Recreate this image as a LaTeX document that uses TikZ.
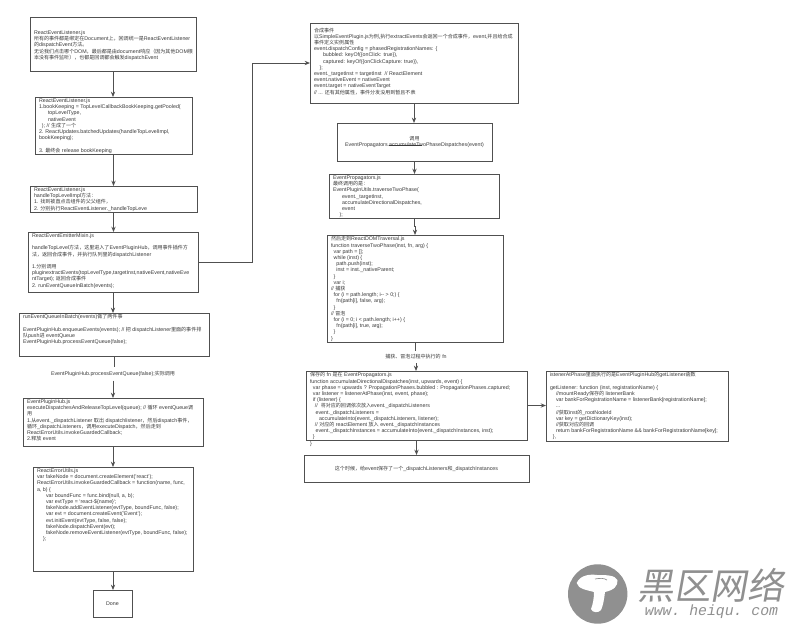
\documentclass[tikz,border=0pt]{standalone}
\usepackage{fontspec}
\setmainfont{Liberation Sans}
\newfontfamily\cjk{Noto Sans CJK SC}
\newfontfamily\cjkbody[Scale=0.95]{Noto Sans CJK SC}
\newfontfamily\wmono{Liberation Mono}
\usetikzlibrary{arrows.meta}
\newcommand\zh[1]{{\cjkbody #1}}
\newcommand\ind[1]{\hspace*{#1pt}}
\newcommand\blank{\mbox{}\\}
\definecolor{edge}{HTML}{505050}
\definecolor{ink}{HTML}{3A3A3A}
\definecolor{wm}{HTML}{909090}
\tikzset{
  x=0.75pt,y=-0.75pt,
  every node/.style={font=\fontsize{3.98}{4.65}\selectfont,text=ink},
  boxs/.style={draw=edge,line width=0.7pt,rectangle,outer sep=0pt,inner xsep=3pt,inner ysep=1.2pt,anchor=north west},
  flow/.style={draw=edge,line width=0.7pt,-{Stealth[length=4pt,width=3.2pt]}},
  plain/.style={draw=edge,line width=0.7pt},
  lbl/.style={inner sep=3pt,outer sep=0pt}
}
% name, x1, y1, x2, y2, text (top-left aligned)
\newcommand\bx[6]{%
  \pgfmathsetlengthmacro\bw{(#4-#2)*0.75}%
  \pgfmathsetlengthmacro\bh{(#5-#3)*0.75}%
  \pgfmathsetlengthmacro\tw{\bw-6}%
  \pgfmathsetlengthmacro\th{\bh-2.4}%
  \node[boxs,minimum width=\bw,minimum height=\bh] (#1) at (#2,#3)
    {\parbox[t][\th][t]{\tw}{\fontsize{3.98}{4.65}\selectfont\hbadness=10000 \hfuzz=40pt\rightskip=0pt plus 1fil #6}};}
% name, x1, y1, x2, y2, text (centred)
\newcommand\cbx[6]{%
  \pgfmathsetlengthmacro\bw{(#4-#2)*0.75}%
  \pgfmathsetlengthmacro\bh{(#5-#3)*0.75}%
  \node[boxs,align=center,minimum width=\bw,minimum height=\bh] (#1) at (#2,#3) {#6};}
\begin{document}
\begin{tikzpicture}
\useasboundingbox (0,0) rectangle (800,629);
\fill[white] (0,0) rectangle (800,629);

\bx{a1}{30}{17}{196}{71}{\vspace*{9pt}ReactEventListener.js\\
\zh{所有的事件都是绑定在}Document\zh{上，回调统一是}ReactEventListener\\
\zh{的}dispatchEvent\zh{方法。}\\
\zh{无论我们点击哪个}DOM\zh{，最后都是由}document\zh{响应（因为其他}DOM\zh{根}\\
\zh{本没有事件监听），也都是回调都会触发}dispatchEvent}

\bx{a2}{35}{97}{192}{154}{ReactEventListener.js\\
1.bookKeeping = TopLevelCallbackBookKeeping.getPooled(\\
\ind{6.75}topLevelType,\\
\ind{6.75}nativeEvent\\
\ind{2.2}); // \zh{生成了一个}\\
2. ReactUpdates.batchedUpdates(handleTopLevelImpl,\\
bookKeeping);\\
\blank
3. \zh{最终会} release bookKeeping}

\bx{a3}{30}{186}{197}{212}{ReactEventListener.js\\
handleTopLevelImpl\zh{方法：}\\
1. \zh{找到被直点击组件的父父组件，}\\
2. \zh{分别执行}ReactEventListener.\_handleTopLeve}

\bx{a4}{28}{232}{198}{292}{ReactEventEmitterMixin.js\\
\blank
handleTopLevel\zh{方法，这里进入了}EventPluginHub\zh{，调用事件插件方}\\
\zh{法，返回合成事件，并执行队列里的}dispatchListener\\
\blank
1.\zh{分别调用}\\
pluginextractEvents(topLevelType,targetInst,nativeEvent,nativeEve\\
ntTarget); \zh{返回合成事件}\\
2. runEventQueueInBatch(events);}

\bx{a5}{19}{313}{209}{356}{runEventQueueInBatch(events)\zh{做了两件事}\\
\blank
EventPluginHub.enqueueEvents(events); // \zh{把} dispatchListener\zh{里面的事件排}\\
\zh{队}push\zh{进} eventQueue\\
EventPluginHub.processEventQueue(false);}

\node[lbl] (l1) at (113,374) {EventPluginHub.processEventQueue(false);\zh{实际调用}};

\bx{a6}{23}{398}{203}{446}{EventPluginHub.js\\
executeDispatchesAndReleaseTopLevel(queue); // \zh{循环} eventQueue\zh{调}\\
\zh{用}\\
1.\zh{从}event.\_dispatchListener \zh{取出} dispatchlistener\zh{，然后}dispatch\zh{事件，}\\
\zh{循环}\_dispatchListeners\zh{，调用}executeDispatch\zh{，然后走到}\\
ReactErrorUtils.invokeGuardedCallback;\\
2.\zh{释放} event}

\bx{a7}{33}{467}{193}{571}{ReactErrorUtils.js\\
var fakeNode = document.createElement('react');\\
ReactErrorUtils.invokeGuardedCallback = function(name, func,\\
a, b) \{\\
\ind{6.75}var boundFunc = func.bind(null, a, b);\\
\ind{6.75}var evtType = `react-\$\{name\}`;\\
\ind{6.75}fakeNode.addEventListener(evtType, boundFunc, false);\\
\ind{6.75}var evt = document.createEvent('Event');\\
\ind{6.75}evt.initEvent(evtType, false, false);\\
\ind{6.75}fakeNode.dispatchEvent(evt);\\
\ind{6.75}fakeNode.removeEventListener(evtType, boundFunc, false);\\
\ind{4.5}\};}

\cbx{a8}{93}{590}{132}{617}{Done}

\bx{b1}{310}{23}{518}{103}{\vspace*{2.5pt}\zh{合成事件}\\
\zh{以}SimpleEventPlugin.js\zh{为例,执行}extractEvents\zh{会返回一个合成事件，}event,\zh{并且给合成}\\
\zh{事件定义实例属性}\\
event.dispatchConfig = phasedRegistrationNames: \{\\
\ind{6.75}bubbled: keyOf(\{onClick: true\}),\\
\ind{6.75}captured: keyOf(\{onClickCapture: true\}),\\
\ind{4.2}\};\\
event.\_targetInst = targetInst\ \ // ReactElement\\
event.nativeEvent = nativeEvent\\
event.target = nativeEventTarget\\
// ... \zh{还有其他属性，事件分发没用到暂且不表}}

\cbx{b2}{337}{123}{492}{161}{\zh{调用}\\EventPropagators.\rlap{\rule[0.2pt]{24.5pt}{0.9pt}}accumulateTwoPhaseDispatches(event)}

\bx{b3}{329}{174}{499}{218}{EventPropagators.js\\
\zh{最终调用的是：}\\
EventPluginUtils.traverseTwoPhase(\\
\ind{6.75}event.\_targetInst,\\
\ind{6.75}accumulateDirectionalDispatches,\\
\ind{6.75}event\\
\ind{5});}

\bx{b4}{327}{235}{503}{342}{\zh{然后走到}ReactDOMTraversal.js\\
function traverseTwoPhase(inst, fn, arg) \{\\
\ind{2}var path = [];\\
\ind{2}while (inst) \{\\
\ind{4}path.push(inst);\\
\ind{4}inst = inst.\_nativeParent;\\
\ind{2}\}\\
\ind{2}var i;\\
// \zh{捕获}\\
\ind{2}for (i = path.length; i{-}{-} > 0;) \{\\
\ind{4}fn(path[i], false, arg);\\
\ind{2}\}\\
// \zh{冒泡}\\
\ind{2}for (i = 0; i < path.length; i++) \{\\
\ind{4}fn(path[i], true, arg);\\
\ind{2}\}\\
\}}

\node[lbl] (l2) at (416,357) {\zh{捕获、冒泡过程中执行的} fn};

\bx{b5}{306}{371}{527}{440}{\zh{保存的} fn \zh{是在} EventPropagators.js\\
function accumulateDirectionalDispatches(inst, upwards, event) \{\\
\ind{2.2}var phase = upwards ? PropagationPhases.bubbled : PropagationPhases.captured;\\
\ind{2.2}var listener = listenerAtPhase(inst, event, phase);\\
\ind{2.2}if (listener) \{\\
\ind{3.7}//\ \ \zh{将对应的回调依次放入}event.\_dispatchListeners\\
\ind{4.2}event.\_dispatchListeners =\\
\ind{6.75}accumulateInto(event.\_dispatchListeners, listener);\\
\ind{3.7}// \zh{对应的} reactElement \zh{放入} event.\_dispatchInstances\\
\ind{4.2}event.\_dispatchInstances = accumulateInto(event.\_dispatchInstances, inst);\\
\ind{2.2}\}\\
\}}

\cbx{b6}{304}{455}{529}{482}{\zh{这个时候，给}event\zh{保存了一个}\_dispatchListeners\zh{和}\_dispatchInstances}

\bx{c1}{546}{371}{728}{441}{listenerAtPhase\zh{里面执行的是}EventPluginHub\zh{的}getListener\zh{函数}\\
\blank
getListener: function (inst, registrationName) \{\\
\ind{4.5}//mountReady\zh{保存的} listenerBank\\
\ind{4.5}var bankForRegistrationName = listenerBank[registrationName];\\
\ind{4.5}...\\
\ind{4.5}//\zh{获取}inst\zh{的}\_rootNodeId\\
\ind{4.5}var key = getDictionaryKey(inst);\\
\ind{4.5}//\zh{获取对应的回调}\\
\ind{4.5}return bankForRegistrationName \&\& bankForRegistrationName[key];\\
\ind{2.2}\},}

% connectors
\draw[flow] (a1.south) -- (a1.south |- a2.north);
\draw[flow] (a2.south) -- (a2.south |- a3.north);
\draw[flow] (a3.south) -- (a3.south |- a4.north);
\draw[flow] (a4.south) -- (a4.south |- a5.north);
\draw[plain] (a5.south) -- (a5.south |- l1.north);
\draw[flow] (l1.south) -- (l1.south |- a6.north);
\draw[flow] (a6.south) -- (a6.south |- a7.north);
\draw[flow] (a7.south) -- (a7.south |- a8.north);
\draw[flow] (a4.east) -- ++(54,0) |- (b1.west);
\draw[flow] (b1.south) -- (b1.south |- b2.north);
\draw[flow] (b2.south) -- (b2.south |- b3.north);
\draw[flow] (b3.south) -- ++(0,8) -| (b4.north);
\draw[plain] (b4.south) -- (b4.south |- l2.north);
\draw[flow] (l2.south) -- (l2.south |- b5.north);
\draw[flow] (b5.south) -- (b5.south |- b6.north);
\draw[flow] (b5.east) -- (b5.east -| c1.west);

% watermark
\fill[wm] (597.7,594) circle[radius=29.7];
\fill[white] (576.7,583) .. controls (580,575) and (590,574) .. (597,575)
  .. controls (606,575) and (615,575) .. (617.5,580)
  .. controls (618,586) and (614,590) .. (605,592)
  .. controls (604,600) and (603,606) .. (601,610)
  .. controls (599,613) and (592,613) .. (591,609)
  .. controls (593,604) and (594,598) .. (594,592)
  .. controls (587,590) and (578,589) .. (576.7,583) -- cycle;
\draw[wm,line width=0.5pt] (595,579) .. controls (600,578) and (604,578) .. (607,580);
\node[inner sep=0pt,anchor=center,text=wm,xslant=0.18,font=\cjk\fontsize{27.4}{27.4}\selectfont] (wm1) at (713.5,585) {黑区网络};
\node[inner sep=0pt,anchor=center,text=wm,font=\wmono\itshape\fontsize{11.1}{11.1}\selectfont] (wm2) at (711.5,612) {www.\ heiqu.\ com};
\end{tikzpicture}
\end{document}
